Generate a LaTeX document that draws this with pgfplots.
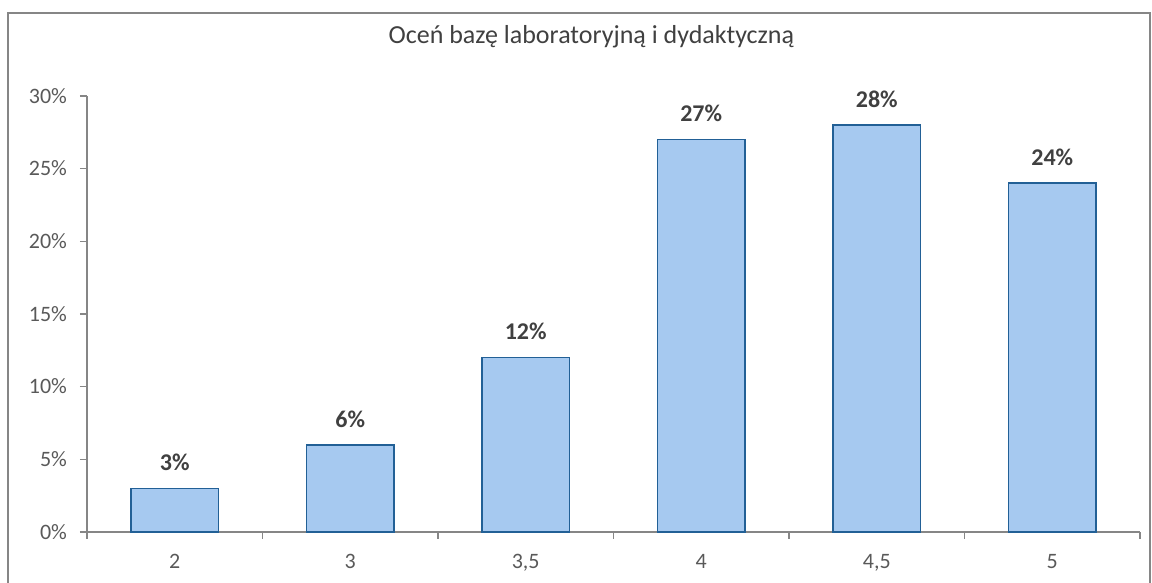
\documentclass[border=0pt]{standalone}
\usepackage{pgfplots}
\pgfplotsset{compat=1.18}
\usepackage{fontspec}
\setmainfont{Carlito}
\definecolor{barfill}{RGB}{166,201,240}
\definecolor{barline}{RGB}{34,96,150}
\definecolor{axisgray}{RGB}{134,134,134}
\definecolor{ticktext}{RGB}{89,89,89}
\definecolor{labtext}{RGB}{64,64,64}

\begin{document}
\begin{tikzpicture}
	\begin{axis}[
			scale only axis,
			width=526.5pt, height=218pt,
			ymin=0, ymax=30,
			xmin=-0.5, xmax=5.5,
			axis x line*=bottom,
			axis y line*=left,
			axis line style={axisgray, line width=0.6pt},
			tick align=outside,
			major tick length=3.5pt,
			tick style={axisgray, line width=0.6pt},
			ytick={0,5,10,15,20,25,30},
			yticklabels={0\%,5\%,10\%,15\%,20\%,25\%,30\%},
			xtick=data,
			xticklabels={2,3,{3,5},4,{4,5},5},
			major x tick style={draw=none},
			minor xtick={-0.5,0.5,1.5,2.5,3.5,4.5,5.5},
			minor tick length=3.5pt,
			minor x tick style={axisgray, line width=0.6pt},
			ticklabel style={font=\fontsize{11}{13}\selectfont, text=ticktext},
			yticklabel style={xshift=-3pt},
			xticklabel style={yshift=-4pt},
			clip=false,
			nodes near coords={\pgfmathprintnumber{\pgfplotspointmeta}\%},
			nodes near coords style={font=\bfseries\fontsize{12}{14}\selectfont, text=labtext, anchor=south, yshift=5pt},
			/pgf/number format/assume math mode=true,
		]
		\addplot [ybar, bar width=0.5, fill=barfill, draw=barline, line width=0.8pt]
			coordinates {(0,3) (1,6) (2,12) (3,27) (4,28) (5,24)};
		\node[font=\fontsize{13}{15}\selectfont, text=labtext] at (axis description cs:0.479,1.135) {Oceń bazę laboratoryjną i dydaktyczną};
		\coordinate (fbl) at (axis description cs:-0.075,-0.13);
		\coordinate (ftl) at (axis description cs:-0.075,1.190);
		\coordinate (ftr) at (axis description cs:1.0095,1.190);
		\coordinate (fbr) at (axis description cs:1.0095,-0.13);
		\coordinate (bbl) at (axis description cs:-0.0826,-0.117);
		\coordinate (btr) at (axis description cs:1.0114,1.220);
	\end{axis}
	\draw[axisgray, line width=0.7pt] (fbl) -- (ftl) -- (ftr) -- (fbr);
	\pgfresetboundingbox
	\useasboundingbox (bbl) rectangle (btr);
\end{tikzpicture}
\end{document}
